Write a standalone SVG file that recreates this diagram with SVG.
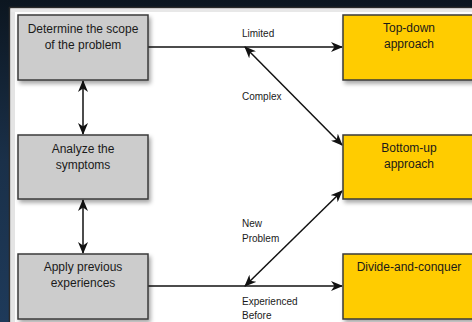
<svg xmlns="http://www.w3.org/2000/svg" width="472" height="322" viewBox="0 0 472 322">
  <defs>
    <linearGradient id="bg" x1="0" y1="0" x2="0" y2="1">
      <stop offset="0" stop-color="#0c1620"/>
      <stop offset="0.5" stop-color="#1a3049"/>
      <stop offset="1" stop-color="#1e3a5a"/>
    </linearGradient>
    <filter id="sh" x="-10%" y="-10%" width="130%" height="140%">
      <feDropShadow dx="2" dy="3" stdDeviation="2" flood-color="#000" flood-opacity="0.35"/>
    </filter>
    <marker id="ah" viewBox="0 0 12 10" refX="11" refY="5" markerWidth="12" markerHeight="10" markerUnits="userSpaceOnUse" orient="auto-start-reverse">
      <path d="M0,0 L12,5 L0,10 L3.5,5 z" fill="#111"/>
    </marker>
    <style>
      .grey { fill: #cccccc; stroke: #3a3a3a; stroke-width: 1.5; }
      .yel { fill: #ffcc00; stroke: #3a3a3a; stroke-width: 1.5; }
      .t { font-family: "Liberation Sans", Arial, sans-serif; font-size: 12px; fill: #1a1a1a; text-anchor: middle; }
      .lbl { font-family: "Liberation Sans", Arial, sans-serif; font-size: 10px; fill: #1a1a1a; }
      .c { stroke: #111; stroke-width: 1.5; fill: none; }
    </style>
  </defs>

  <rect x="0" y="0" width="472" height="322" fill="url(#bg)"/>
  <rect x="9.5" y="7.5" width="470" height="320" fill="#ffffff" stroke="#2a2a2a" stroke-width="1.5"/>
  <rect x="11" y="9" width="4" height="320" fill="#e4e4e4"/>
  <rect x="11" y="9" width="470" height="3" fill="#e8e8e8"/>

  <g id="connectors">
    <line class="c" x1="83" y1="81" x2="83" y2="134" marker-start="url(#ah)" marker-end="url(#ah)"/>
    <line class="c" x1="83" y1="200" x2="83" y2="253" marker-start="url(#ah)" marker-end="url(#ah)"/>
    <line class="c" x1="148" y1="47" x2="342" y2="47" marker-end="url(#ah)"/>
    <line class="c" x1="245" y1="47" x2="342" y2="145" marker-start="url(#ah)" marker-end="url(#ah)"/>
    <line class="c" x1="148" y1="286" x2="342" y2="286" marker-end="url(#ah)"/>
    <line class="c" x1="245" y1="286" x2="342" y2="191" marker-start="url(#ah)" marker-end="url(#ah)"/>
    <text class="lbl" x="242" y="37">Limited</text>
    <text class="lbl" x="242" y="100">Complex</text>
    <text class="lbl" x="242" y="227">New</text>
    <text class="lbl" x="242" y="242">Problem</text>
    <text class="lbl" x="242" y="305">Experienced</text>
    <text class="lbl" x="242" y="319">Before</text>
  </g>

  <g id="scope">
    <rect class="grey" x="18" y="15" width="130" height="65" filter="url(#sh)"/>
    <text class="t" x="83" y="33">Determine the scope</text>
    <text class="t" x="83" y="49">of the problem</text>
  </g>
  <g id="analyze">
    <rect class="grey" x="18" y="135" width="130" height="64" filter="url(#sh)"/>
    <text class="t" x="83" y="153">Analyze the</text>
    <text class="t" x="83" y="169">symptoms</text>
  </g>
  <g id="apply">
    <rect class="grey" x="18" y="254" width="130" height="65" filter="url(#sh)"/>
    <text class="t" x="83" y="271">Apply previous</text>
    <text class="t" x="83" y="287">experiences</text>
  </g>
  <g id="topdown">
    <rect class="yel" x="343" y="15" width="134" height="65" filter="url(#sh)"/>
    <text class="t" x="409" y="32">Top-down</text>
    <text class="t" x="409" y="48">approach</text>
  </g>
  <g id="bottomup">
    <rect class="yel" x="343" y="135" width="134" height="64" filter="url(#sh)"/>
    <text class="t" x="409" y="152">Bottom-up</text>
    <text class="t" x="409" y="168">approach</text>
  </g>
  <g id="divide">
    <rect class="yel" x="343" y="254" width="134" height="65" filter="url(#sh)"/>
    <text class="t" x="409" y="271">Divide-and-conquer</text>
  </g>
</svg>
